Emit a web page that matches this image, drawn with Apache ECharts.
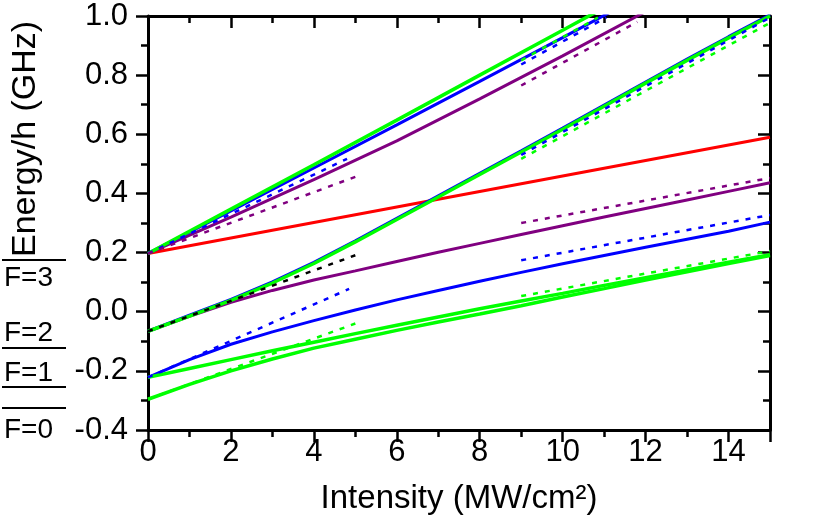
<!DOCTYPE html>
<html>
<head>
<meta charset="utf-8">
<script src="https://cdn.jsdelivr.net/npm/echarts@6/dist/echarts.min.js"></script>
<style>
html,body{margin:0;padding:0;background:#fff;}
#chart{width:830px;height:520px;}
</style>
</head>
<body>
<div id="chart"></div>
<script>
// ---- axis ticks ----
const xTicks = [0, 2, 4, 6, 8, 10, 12, 14];
const yTicks = [-0.4, -0.2, 0.0, 0.2, 0.4, 0.6, 0.8, 1.0];
const levelLabels = ['F=3', 'F=2', 'F=1', 'F=0'];

// ---- x grid for curved solid lines ----
const xFull = [0, 1, 2, 3, 4, 5, 6, 7, 8, 9, 10, 11, 12, 13, 14, 15];

// ---- F=3 group ----
const redX = [0, 15];
const redY = [0.197, 0.59];
const greenF3X = [0, 2, 4, 6, 8, 10, 11];
const greenF3Y = [0.197, 0.347, 0.497, 0.648, 0.800, 0.952, 1.028];
const blueF3X = [0, 2, 4, 6, 8, 10, 11.2];
const blueF3Y = [0.197, 0.341, 0.486, 0.632, 0.779, 0.927, 1.017];
const purpleF3X = [0, 2, 4, 6, 8, 10, 12];
const purpleF3Y = [0.197, 0.320, 0.447, 0.578, 0.720, 0.865, 1.015];
const blueDotF3aX = [0, 4.8];
const blueDotF3aY = [0.197, 0.517];
const purpleDotF3aX = [0, 5];
const purpleDotF3aY = [0.197, 0.456];
const blueDotF3bX = [9, 11.05];
const blueDotF3bY = [0.836, 0.995];
const greenDotF3bX = [9, 10.85];
const greenDotF3bY = [0.85, 0.995];
const purpleDotF3bX = [9, 11.8];
const purpleDotF3bY = [0.765, 0.98];

// ---- F=2 group ----
const greenF2Y = [-0.066, -0.015, 0.038, 0.097, 0.163, 0.236, 0.312, 0.388, 0.464, 0.540, 0.617, 0.695, 0.773, 0.850, 0.926, 1.0];
const blueF2Y = [-0.066, -0.012, 0.042, 0.101, 0.167, 0.240, 0.316, 0.392, 0.468, 0.544, 0.621, 0.699, 0.777, 0.854, 0.930, 1.004];
const purpleF2Y = [-0.066, -0.016, 0.032, 0.072, 0.107, 0.138, 0.170, 0.201, 0.231, 0.261, 0.291, 0.320, 0.349, 0.378, 0.407, 0.436];
const blackDotF2X = [0, 5];
const blackDotF2Y = [-0.066, 0.191];
const blueDotF2bX = [9, 15];
const blueDotF2bY = [0.53, 0.995];
const greenDotF2bX = [9, 15];
const greenDotF2bY = [0.517, 0.977];
const purpleDotF2bX = [9, 15];
const purpleDotF2bY = [0.30, 0.452];

// ---- F=1 group ----
const blueF1Y = [-0.222, -0.162, -0.110, -0.068, -0.030, 0.006, 0.040, 0.072, 0.103, 0.133, 0.162, 0.190, 0.218, 0.245, 0.272, 0.303];
const greenF1Y = [-0.222, -0.192, -0.162, -0.132, -0.103, -0.074, -0.046, -0.018, 0.010, 0.036, 0.062, 0.089, 0.115, 0.141, 0.167, 0.193];
const blueDotF1aX = [0, 4.85];
const blueDotF1aY = [-0.222, 0.077];
const blueDotF1bX = [9, 15];
const blueDotF1bY = [0.174, 0.327];
const greenDotF1bX = [9, 15];
const greenDotF1bY = [0.053, 0.205];

// ---- F=0 group ----
const greenF0Y = [-0.296, -0.246, -0.200, -0.160, -0.123, -0.093, -0.063, -0.035, -0.008, 0.020, 0.050, 0.078, 0.107, 0.135, 0.163, 0.190];
const greenDotF0aX = [0, 5];
const greenDotF0aY = [-0.296, -0.04];

// ---- colours ----
const RED = '#ff0000', GREEN = '#00ff00', BLUE = '#0000ff', PURPLE = '#800080', BLACK = '#000000';

function pts(xa, ya) { return xa.map((x, i) => [x, ya[i]]); }
function solid(xa, ya, color, w) {
  return { type: 'line', data: pts(xa, ya), symbol: 'none', silent: true, animation: false, clip: true,
    lineStyle: { color: color, width: w || 3 } };
}
function dotted(xa, ya, color) {
  return { type: 'line', data: pts(xa, ya), symbol: 'none', silent: true, animation: false, clip: true,
    lineStyle: { color: color, width: 2.5, type: [5, 7] } };
}

const FONT = 'Liberation Sans, Arial, sans-serif';

const series = [
  solid(redX, redY, RED),
  solid(purpleF3X, purpleF3Y, PURPLE),
  solid(blueF3X, blueF3Y, BLUE),
  solid(greenF3X, greenF3Y, GREEN, 3.5),
  solid(xFull, purpleF2Y, PURPLE),
  solid(xFull, blueF2Y, BLUE),
  solid(xFull, greenF2Y, GREEN, 3.5),
  solid(xFull, blueF1Y, BLUE),
  solid(xFull, greenF1Y, GREEN, 3.5),
  solid(xFull, greenF0Y, GREEN, 3.5),
  dotted(blueDotF3aX, blueDotF3aY, BLUE),
  dotted(purpleDotF3aX, purpleDotF3aY, PURPLE),
  dotted(blueDotF3bX, blueDotF3bY, BLUE),
  dotted(greenDotF3bX, greenDotF3bY, GREEN),
  dotted(purpleDotF3bX, purpleDotF3bY, PURPLE),
  dotted(blackDotF2X, blackDotF2Y, BLACK),
  dotted(blueDotF2bX, blueDotF2bY, BLUE),
  dotted(greenDotF2bX, greenDotF2bY, GREEN),
  dotted(purpleDotF2bX, purpleDotF2bY, PURPLE),
  dotted(blueDotF1aX, blueDotF1aY, BLUE),
  dotted(blueDotF1bX, blueDotF1bY, BLUE),
  dotted(greenDotF1bX, greenDotF1bY, GREEN),
  dotted(greenDotF0aX, greenDotF0aY, GREEN)
];

const axisLine = { show: true, onZero: false, lineStyle: { color: '#000', width: 3 } };

const option = {
  animation: false,
  backgroundColor: '#fff',
  grid: { left: 148, right: 60, top: 16, bottom: 87, containLabel: false },
  xAxis: [
    { type: 'value', position: 'bottom', min: 0, max: 15, interval: 2,
      axisLine: axisLine,
      axisTick: { show: true, inside: false, length: 12, lineStyle: { color: '#000', width: 2.5 } },
      minorTick: { show: true, splitNumber: 2, length: 7, lineStyle: { color: '#000', width: 2.5 } },
      axisLabel: { show: true, showMaxLabel: false, margin: 7, color: '#000', fontFamily: FONT, fontSize: 31,
        formatter: v => (xTicks.indexOf(v) >= 0 ? String(v) : '') },
      splitLine: { show: false },
      name: 'Intensity (MW/cm²)', nameLocation: 'middle', nameGap: 52,
      nameTextStyle: { color: '#000', fontFamily: FONT, fontSize: 33 } },
    { type: 'value', position: 'top', min: 0, max: 15, interval: 2,
      axisLine: axisLine,
      axisTick: { show: true, inside: true, length: 12, lineStyle: { color: '#000', width: 2.5 } },
      minorTick: { show: true, splitNumber: 2, length: 7, lineStyle: { color: '#000', width: 2.5 } },
      axisLabel: { show: false }, splitLine: { show: false } }
  ],
  yAxis: [
    { type: 'value', position: 'left', min: -0.4, max: 1.0, interval: 0.2,
      axisLine: axisLine,
      axisTick: { show: true, inside: false, length: 12, lineStyle: { color: '#000', width: 2.5 } },
      minorTick: { show: true, splitNumber: 2, length: 7, lineStyle: { color: '#000', width: 2.5 } },
      axisLabel: { show: true, margin: 20, color: '#000', fontFamily: FONT, fontSize: 31,
        formatter: v => {
          const m = yTicks.find(t => Math.abs(t - v) < 1e-6);
          return m === undefined ? '' : m.toFixed(1);
        } },
      splitLine: { show: false } },
    { type: 'value', position: 'right', min: -0.4, max: 1.0, interval: 0.2,
      axisLine: axisLine,
      axisTick: { show: true, inside: true, length: 12, lineStyle: { color: '#000', width: 2.5 } },
      minorTick: { show: true, splitNumber: 2, length: 7, lineStyle: { color: '#000', width: 2.5 } },
      axisLabel: { show: false }, splitLine: { show: false } }
  ],
  graphic: [
    { type: 'text', x: 26, y: 257, rotation: Math.PI / 2, silent: true,
      style: { text: 'Energy/h (GHz)', font: '34px ' + FONT, fill: '#000', textAlign: 'left', textVerticalAlign: 'middle' } },
    { type: 'line', silent: true, shape: { x1: 2, y1: 260, x2: 66, y2: 260 }, style: { stroke: '#000', lineWidth: 2 } },
    { type: 'line', silent: true, shape: { x1: 2, y1: 348, x2: 66, y2: 348 }, style: { stroke: '#000', lineWidth: 2 } },
    { type: 'line', silent: true, shape: { x1: 2, y1: 387, x2: 66, y2: 387 }, style: { stroke: '#000', lineWidth: 2 } },
    { type: 'line', silent: true, shape: { x1: 2, y1: 408, x2: 66, y2: 408 }, style: { stroke: '#000', lineWidth: 2 } },
    { type: 'text', x: 4, y: 264, silent: true, style: { text: levelLabels[0], font: '28px ' + FONT, fill: '#000', textVerticalAlign: 'top' } },
    { type: 'text', x: 4, y: 319, silent: true, style: { text: levelLabels[1], font: '28px ' + FONT, fill: '#000', textVerticalAlign: 'top' } },
    { type: 'text', x: 4, y: 359, silent: true, style: { text: levelLabels[2], font: '28px ' + FONT, fill: '#000', textVerticalAlign: 'top' } },
    { type: 'text', x: 4, y: 416, silent: true, style: { text: levelLabels[3], font: '28px ' + FONT, fill: '#000', textVerticalAlign: 'top' } }
  ],
  series: series
};

const chart = echarts.init(document.getElementById('chart'), null, { renderer: 'canvas' });
chart.setOption(option);
</script>
</body>
</html>
